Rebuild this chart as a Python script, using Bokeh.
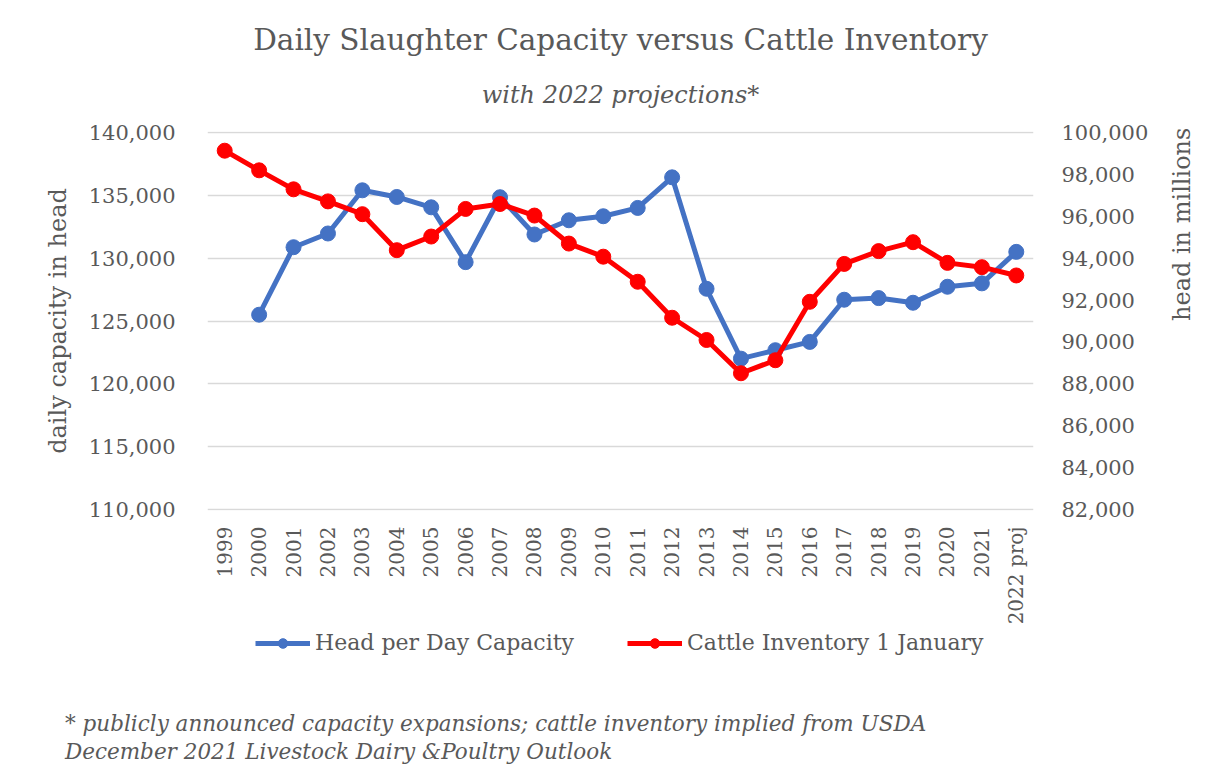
import numpy as np
from bokeh.plotting import figure
from bokeh.layouts import column
from bokeh.models import (LinearAxis, Range1d, FactorRange, SingleIntervalTicker,
                          NumeralTickFormatter, Legend, LegendItem, Title, Div,
                          ColumnDataSource)
from bokeh.embed import file_html
from bokeh.resources import INLINE

years = ["1999", "2000", "2001", "2002", "2003", "2004", "2005", "2006", "2007", "2008",
         "2009", "2010", "2011", "2012", "2013", "2014", "2015", "2016", "2017", "2018",
         "2019", "2020", "2021", "2022 proj"]

capacity = [np.nan, 125500, 130860, 131950, 135380, 134850, 134030, 129675, 134830, 131870,
            133000, 133320, 133980, 136410, 127560, 122010, 122680, 123340, 126690, 126820,
            126450, 127720, 127990, 130490]

inventory = [99115, 98180, 97275, 96700, 96090, 94375, 95025, 96340, 96575, 96025,
             94690, 94065, 92870, 91155, 90095, 88510, 89130, 91915, 93720, 94330,
             94755, 93770, 93565, 93170]

series_names = ["Head per Day Capacity", "Cattle Inventory 1 January"]
footnote = ["*  publicly announced capacity expansions; cattle inventory implied from USDA",
            "December 2021 Livestock Dairy &amp;Poultry Outlook"]

FONT = "DejaVu Serif"
GRAY = "#595959"
BLUE = "#4472C4"
RED = "#FF0000"

src = ColumnDataSource(dict(year=years, cap=capacity, inv=inventory))

# ---------------- main chart ----------------
p = figure(frame_width=826, frame_height=379, output_backend="svg", toolbar_location=None,
           x_range=FactorRange(*years), y_range=Range1d(109950, 140050),
           min_border_left=207, min_border_right=179, min_border_top=131, min_border_bottom=0)
p.extra_y_ranges = {"inv": Range1d(81970, 100030)}

p.outline_line_color = None
p.background_fill_color = "white"
p.border_fill_color = "white"

p.xgrid.grid_line_color = None
p.ygrid.grid_line_color = "#d9d9d9"
p.ygrid.grid_line_width = 1.5

def style_axis(ax, label=None):
    ax.axis_line_color = None
    ax.major_tick_line_color = None
    ax.minor_tick_line_color = None
    ax.major_label_text_font = FONT
    ax.major_label_text_font_size = "21px"
    ax.major_label_text_color = GRAY
    if label:
        ax.axis_label = label
        ax.axis_label_text_font = FONT
        ax.axis_label_text_font_size = "24px"
        ax.axis_label_text_font_style = "normal"
        ax.axis_label_text_color = GRAY

yl = p.yaxis[0]
yl.ticker = SingleIntervalTicker(interval=5000)
yl.formatter = NumeralTickFormatter(format="0,0")
style_axis(yl, "daily capacity in head")
yl.major_label_standoff = 26
yl.axis_label_standoff = 14

yr = LinearAxis(y_range_name="inv", ticker=SingleIntervalTicker(interval=2000),
                formatter=NumeralTickFormatter(format="0,0"))
style_axis(yr, "head in millions")
yr.major_label_standoff = 22
yr.axis_label_standoff = 31
yr.axis_label_orientation = np.pi / 2
p.add_layout(yr, "right")

xa = p.xaxis[0]
style_axis(xa)
xa.major_label_text_font_size = "20px"
xa.major_label_orientation = np.pi / 2
xa.major_label_standoff = 10

p.line("year", "cap", source=src, line_color=BLUE, line_width=5)
p.scatter("year", "cap", source=src, size=15, fill_color=BLUE, line_color=BLUE)
p.line("year", "inv", source=src, y_range_name="inv", line_color=RED, line_width=5)
p.scatter("year", "inv", source=src, y_range_name="inv", size=15, fill_color=RED, line_color=RED)

sub = Title(text="with 2022 projections*", align="center", text_font=FONT,
            text_font_size="24px", text_font_style="italic", text_color=GRAY, standoff=45)
ttl = Title(text="Daily Slaughter Capacity versus Cattle Inventory", align="center",
            text_font=FONT, text_font_size="29.5px", text_font_style="normal",
            text_color=GRAY, standoff=0)
p.add_layout(sub, "above")
p.add_layout(ttl, "above")

# ---------------- legend strip (frame aligned with the chart frame) ----------------
q = figure(frame_width=826, frame_height=36, output_backend="svg", toolbar_location=None,
           x_range=Range1d(0, 1), y_range=Range1d(0, 1),
           x_axis_location=None, y_axis_location=None,
           min_border_left=207, min_border_right=179, min_border_top=0, min_border_bottom=0)
q.outline_line_color = None
q.grid.visible = False
q.background_fill_color = "white"
q.border_fill_color = "white"

proxy_src = ColumnDataSource(dict(x=[np.nan], y=[np.nan]))
ql1 = q.line("x", "y", source=proxy_src, line_color=BLUE, line_width=5)
qs1 = q.scatter("x", "y", source=proxy_src, size=15, fill_color=BLUE, line_color=BLUE)
ql2 = q.line("x", "y", source=proxy_src, line_color=RED, line_width=5)
qs2 = q.scatter("x", "y", source=proxy_src, size=15, fill_color=RED, line_color=RED)

legend = Legend(items=[LegendItem(label=series_names[0], renderers=[ql1, qs1]),
                       LegendItem(label=series_names[1], renderers=[ql2, qs2])],
                orientation="horizontal", location=(48, 8))
legend.label_text_font = FONT
legend.label_text_font_size = "22px"
legend.label_text_color = GRAY
legend.glyph_width = 55
legend.glyph_height = 24
legend.label_standoff = 5
legend.spacing = 53
legend.padding = 0
legend.margin = 0
legend.border_line_color = None
legend.background_fill_alpha = 0
q.add_layout(legend, "center")

# ---------------- footnote ----------------
note = Div(text="<br>".join(footnote), width=1212,
           styles={"font-family": FONT, "font-style": "italic", "font-size": "21.5px",
                   "color": GRAY, "line-height": "28px", "padding-left": "60px",
                   "padding-top": "42px", "white-space": "nowrap"})

layout = column(p, q, note, spacing=0)
open("out.html", "w").write(file_html(layout, INLINE))
